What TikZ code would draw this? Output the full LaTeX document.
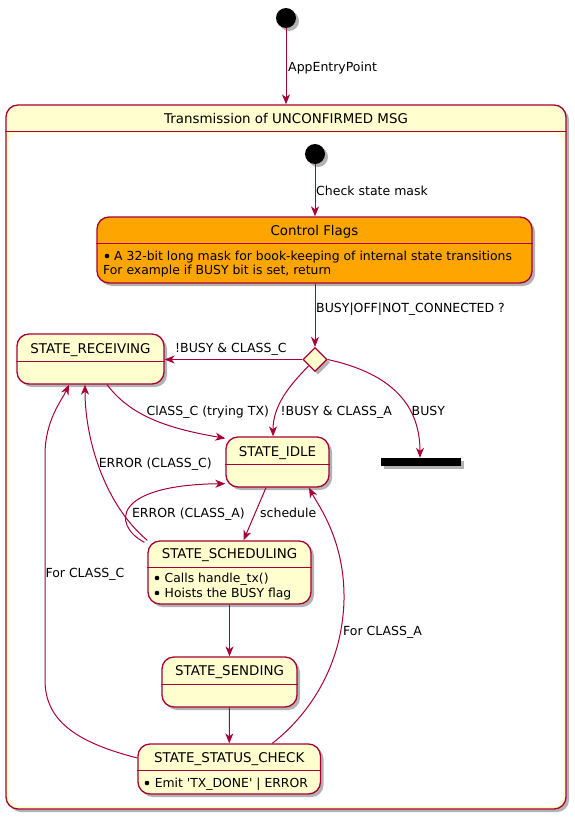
\documentclass[tikz,border=0pt]{standalone}
\usepackage{fontspec}
\setmainfont{DejaVu Sans}
\newfontfamily\plainfont{DejaVu Sans}
\usetikzlibrary{shapes.geometric,arrows.meta,shadows}
\definecolor{bord}{HTML}{A80036}
\definecolor{cream}{HTML}{FEFECE}
\definecolor{flagor}{HTML}{FFA500}
\newcommand\stfont{\fontsize{13.4}{16}\selectfont}
\newcommand\lbfont{\fontsize{12.5}{15}\selectfont}
\newcommand\bdfont{\plainfont\fontsize{12.4}{15}\selectfont}
\begin{document}
\begin{tikzpicture}[x=1pt,y=1pt,
  shad/.style={drop shadow={shadow xshift=3pt,shadow yshift=-3pt,opacity=0.3,fill=black}},
  statebox/.style={draw=bord,fill=cream,line width=1.3pt,rounded corners=12pt,inner sep=0,shad},
  sepline/.style={draw=bord,line width=0.9pt},
  ttl/.style={font=\stfont,inner sep=0,anchor=base},
  lbl/.style={font=\lbfont,inner sep=0,anchor=base west},
  body/.style={font=\bdfont,inner sep=0,anchor=base west},
  arr/.style={draw=bord,line width=1pt,-{Stealth[length=10pt,width=8pt,inset=3pt]}},
  startc/.style={circle,fill=black,minimum size=20pt,inner sep=0,shad}]
\useasboundingbox (0,0) rectangle (574,-819);

% composite
\node[draw=bord,fill=cream,line width=1.3pt,rounded corners=12pt,inner sep=0,
      minimum width=560pt,minimum height=704pt,shad] (comp) at (286,-457) {};
\fill[white,rounded corners=10pt] (9,-133) rectangle (563,-806);
\draw[sepline] (comp.west |- 0,-131.5) -- (comp.east |- 0,-131.5);
\node[ttl] (compt) at (286,-123) {Transmission of UNCONFIRMED MSG};

% start points
\node[startc] (s0) at (286,-18) {};
\node[startc] (s1) at (315,-154) {};

% control flags
\node[statebox,fill=flagor,minimum width=435pt,minimum height=66pt] (cf) at (314.5,-250) {};
\draw[sepline] (cf.west |- 0,-243.5) -- (cf.east |- 0,-243.5);
\node[ttl] (cft) at (314.5,-235) {Control Flags};
\fill (107,-256) circle (2.3pt);
\node[body] (cfb1) at (114,-260.5) {A 32-bit long mask for book-keeping of internal state transitions};
\node[body] (cfb2) at (103,-274) {For example if BUSY bit is set, return};

% decision
\node[diamond,draw=bord,fill=cream,line width=1.2pt,minimum width=24pt,minimum height=24pt,inner sep=0,shad] (dec) at (315,-359.5) {};

% states
\node[statebox,minimum width=147pt,minimum height=50pt] (recv) at (90.5,-359) {};
\draw[sepline] (recv.west |- 0,-361) -- (recv.east |- 0,-361);
\node[ttl] (recvt) at (90.5,-353) {STATE\_RECEIVING};

\node[statebox,minimum width=103pt,minimum height=50pt] (idle) at (277.5,-462) {};
\draw[sepline] (idle.west |- 0,-464) -- (idle.east |- 0,-464);
\node[ttl] (idlet) at (277.5,-456) {STATE\_IDLE};

\node[fill=black,minimum width=80pt,minimum height=8pt,inner sep=0,shad] (bar) at (421,-462) {};

\node[statebox,minimum width=163pt,minimum height=63pt] (sched) at (229.5,-572.5) {};
\draw[sepline] (sched.west |- 0,-567) -- (sched.east |- 0,-567);
\node[ttl] (schedt) at (229.5,-558) {STATE\_SCHEDULING};
\fill (157,-578) circle (2.3pt);
\node[body] (sb1) at (164.5,-582.5) {Calls handle\_tx()};
\fill (157,-593) circle (2.3pt);
\node[body] (sb2) at (164.5,-597.5) {Hoists the BUSY flag};

\node[statebox,minimum width=135pt,minimum height=50pt] (send) at (229.5,-682) {};
\draw[sepline] (send.west |- 0,-684) -- (send.east |- 0,-684);
\node[ttl] (sendt) at (229.5,-675) {STATE\_SENDING};

\node[statebox,minimum width=182.5pt,minimum height=50pt] (stat) at (229.25,-769) {};
\draw[sepline] (stat.west |- 0,-770) -- (stat.east |- 0,-770);
\node[ttl] (statt) at (229.25,-762) {STATE\_STATUS\_CHECK};
\fill (147,-783) circle (2.3pt);
\node[body] (stb1) at (154.6,-787.5) {Emit 'TX\_DONE' | ERROR};

% connectors
\draw[arr] (s0) -- (s0 |- comp.north);
\node[lbl] (l1) at (288,-71.5) {AppEntryPoint};
\draw[arr] (s1) -- (s1 |- cf.north);
\node[lbl] (l2) at (316,-195) {Check state mask};
\draw[arr] (cf.south -| dec) -- (dec.north);
\node[lbl] (l3) at (316,-312) {BUSY|OFF|NOT\_CONNECTED ?};
\draw[arr] (dec.west) -- (dec.west -| recv.east);
\node[lbl] (l4) at (175,-352.5) {!BUSY \& CLASS\_C};
\draw[arr] (dec.south west) .. controls (290,-385) and (273,-405) .. ([xshift=-4.5pt]idle.north);
\node[lbl] (l5) at (280.5,-415.5) {!BUSY \& CLASS\_A};
\draw[arr] (dec.east) .. controls (385,-372) and (420,-400) .. ([xshift=-1pt]bar.north);
\node[lbl] (l6) at (411.5,-415.5) {BUSY};
\draw[arr] ([xshift=16.5pt]recv.south) .. controls (130,-415) and (165,-428) .. ([yshift=-2pt]idle.north west);
\node[lbl] (l7) at (146.5,-415.5) {ClASS\_C (trying TX)};
\draw[arr] ([xshift=-11.5pt]idle.south) -- ([xshift=14pt]sched.north);
\node[lbl] (l8) at (260,-517.5) {schedule};
\draw[arr] (sched.north west) .. controls (105,-505) and (85,-440) .. ([xshift=-5.5pt]recv.south);
\node[lbl] (l9) at (98.6,-467.5) {ERROR (CLASS\_C)};
\draw[arr] ([xshift=-3pt,yshift=-2pt]sched.north west) .. controls (112,-525) and (112,-485) .. ([yshift=4pt]idle.south west);
\node[lbl] (l10) at (131.8,-517.5) {ERROR (CLASS\_A)};
\draw[arr] (sched.south) -- (send.north);
\draw[arr] (send.south) -- (stat.north);
\draw[arr] ([yshift=11pt]stat.west) .. controls (75,-742) and (45,-720) .. (45,-680) -- (45,-455) .. controls (45,-420) and (62,-400) .. ([xshift=-21.5pt]recv.south);
\node[lbl] (l11) at (45.3,-577.5) {For CLASS\_C};
\draw[arr] ([xshift=43pt]stat.north) .. controls (300,-722) and (342,-675) .. (344,-600) .. controls (345,-540) and (318,-505) .. ([xshift=31.5pt]idle.south);
\node[lbl] (l12) at (343,-635.5) {For CLASS\_A};
\end{tikzpicture}
\end{document}
